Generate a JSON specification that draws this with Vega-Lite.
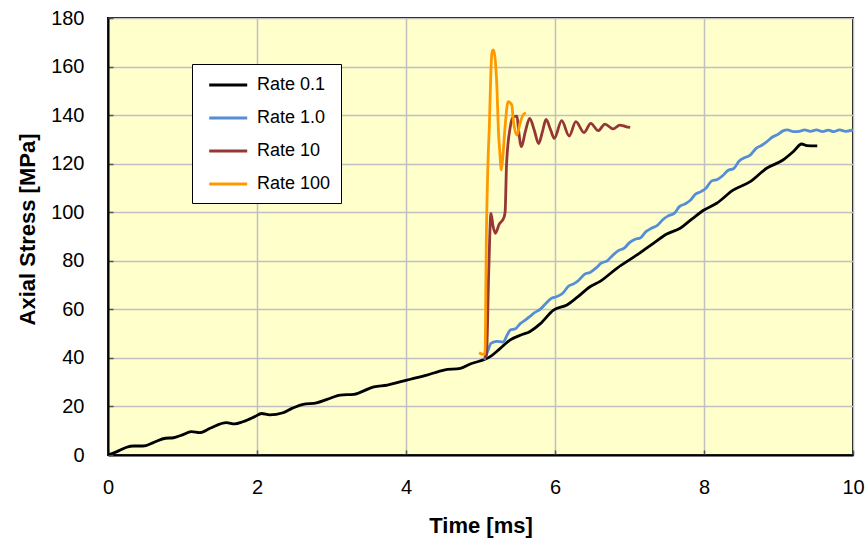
{
  "$schema": "https://vega.github.io/schema/vega-lite/v6.json",
  "width": 745,
  "height": 437,
  "autosize": "none",
  "padding": {"left": 108, "top": 18, "right": 13, "bottom": 83},
  "background": "white",
  "data": {
    "values": [
      {"series": "Rate 0.1", "t": 0, "s": 0},
      {"series": "Rate 0.1", "t": 0.12, "s": 1.4},
      {"series": "Rate 0.1", "t": 0.25, "s": 3.2},
      {"series": "Rate 0.1", "t": 0.34, "s": 3.7},
      {"series": "Rate 0.1", "t": 0.47, "s": 3.7},
      {"series": "Rate 0.1", "t": 0.61, "s": 5.1},
      {"series": "Rate 0.1", "t": 0.77, "s": 6.9},
      {"series": "Rate 0.1", "t": 0.88, "s": 7.1},
      {"series": "Rate 0.1", "t": 0.99, "s": 8.2},
      {"series": "Rate 0.1", "t": 1.12, "s": 9.6},
      {"series": "Rate 0.1", "t": 1.23, "s": 9.2},
      {"series": "Rate 0.1", "t": 1.37, "s": 11.0},
      {"series": "Rate 0.1", "t": 1.59, "s": 13.3},
      {"series": "Rate 0.1", "t": 1.70, "s": 12.8},
      {"series": "Rate 0.1", "t": 1.81, "s": 13.7},
      {"series": "Rate 0.1", "t": 1.97, "s": 15.8},
      {"series": "Rate 0.1", "t": 2.06, "s": 17.1},
      {"series": "Rate 0.1", "t": 2.17, "s": 16.5},
      {"series": "Rate 0.1", "t": 2.35, "s": 17.4},
      {"series": "Rate 0.1", "t": 2.47, "s": 19.2},
      {"series": "Rate 0.1", "t": 2.62, "s": 20.9},
      {"series": "Rate 0.1", "t": 2.80, "s": 21.5},
      {"series": "Rate 0.1", "t": 2.94, "s": 22.9},
      {"series": "Rate 0.1", "t": 3.12, "s": 24.7},
      {"series": "Rate 0.1", "t": 3.30, "s": 25.0},
      {"series": "Rate 0.1", "t": 3.57, "s": 28.1},
      {"series": "Rate 0.1", "t": 3.75, "s": 28.8},
      {"series": "Rate 0.1", "t": 3.93, "s": 30.2},
      {"series": "Rate 0.1", "t": 4.06, "s": 31.2},
      {"series": "Rate 0.1", "t": 4.28, "s": 32.9},
      {"series": "Rate 0.1", "t": 4.51, "s": 35.0},
      {"series": "Rate 0.1", "t": 4.73, "s": 35.7},
      {"series": "Rate 0.1", "t": 4.88, "s": 37.7},
      {"series": "Rate 0.1", "t": 5.06, "s": 39.4},
      {"series": "Rate 0.1", "t": 5.13, "s": 40.5},
      {"series": "Rate 0.1", "t": 5.25, "s": 43.5},
      {"series": "Rate 0.1", "t": 5.40, "s": 47.4},
      {"series": "Rate 0.1", "t": 5.55, "s": 49.5},
      {"series": "Rate 0.1", "t": 5.66, "s": 50.8},
      {"series": "Rate 0.1", "t": 5.80, "s": 54.0},
      {"series": "Rate 0.1", "t": 5.98, "s": 59.7},
      {"series": "Rate 0.1", "t": 6.16, "s": 61.8},
      {"series": "Rate 0.1", "t": 6.30, "s": 65.0},
      {"series": "Rate 0.1", "t": 6.47, "s": 69.3},
      {"series": "Rate 0.1", "t": 6.60, "s": 71.4},
      {"series": "Rate 0.1", "t": 6.83, "s": 76.9},
      {"series": "Rate 0.1", "t": 7.10, "s": 82.4},
      {"series": "Rate 0.1", "t": 7.32, "s": 87.2},
      {"series": "Rate 0.1", "t": 7.50, "s": 91.0},
      {"series": "Rate 0.1", "t": 7.68, "s": 93.4},
      {"series": "Rate 0.1", "t": 7.85, "s": 97.5},
      {"series": "Rate 0.1", "t": 8.00, "s": 100.9},
      {"series": "Rate 0.1", "t": 8.17, "s": 103.7},
      {"series": "Rate 0.1", "t": 8.39, "s": 109.1},
      {"series": "Rate 0.1", "t": 8.62, "s": 112.6},
      {"series": "Rate 0.1", "t": 8.84, "s": 118.1},
      {"series": "Rate 0.1", "t": 9.06, "s": 121.5},
      {"series": "Rate 0.1", "t": 9.20, "s": 125.0},
      {"series": "Rate 0.1", "t": 9.31, "s": 128.1},
      {"series": "Rate 0.1", "t": 9.38, "s": 127.4},
      {"series": "Rate 0.1", "t": 9.52, "s": 127.3},

      {"series": "Rate 1.0", "t": 5.05, "s": 39.3},
      {"series": "Rate 1.0", "t": 5.10, "s": 43.0},
      {"series": "Rate 1.0", "t": 5.14, "s": 46.0},
      {"series": "Rate 1.0", "t": 5.22, "s": 46.8},
      {"series": "Rate 1.0", "t": 5.30, "s": 46.5},
      {"series": "Rate 1.0", "t": 5.36, "s": 49.5},
      {"series": "Rate 1.0", "t": 5.40, "s": 51.5},
      {"series": "Rate 1.0", "t": 5.47, "s": 52.0},
      {"series": "Rate 1.0", "t": 5.53, "s": 54.0},
      {"series": "Rate 1.0", "t": 5.60, "s": 55.6},
      {"series": "Rate 1.0", "t": 5.66, "s": 57.0},
      {"series": "Rate 1.0", "t": 5.72, "s": 58.5},
      {"series": "Rate 1.0", "t": 5.80, "s": 60.0},
      {"series": "Rate 1.0", "t": 5.88, "s": 62.5},
      {"series": "Rate 1.0", "t": 5.95, "s": 64.5},
      {"series": "Rate 1.0", "t": 6.02, "s": 65.2},
      {"series": "Rate 1.0", "t": 6.10, "s": 66.5},
      {"series": "Rate 1.0", "t": 6.18, "s": 69.5},
      {"series": "Rate 1.0", "t": 6.25, "s": 70.5},
      {"series": "Rate 1.0", "t": 6.32, "s": 72.0},
      {"series": "Rate 1.0", "t": 6.40, "s": 74.5},
      {"series": "Rate 1.0", "t": 6.47, "s": 75.2},
      {"series": "Rate 1.0", "t": 6.55, "s": 77.0},
      {"series": "Rate 1.0", "t": 6.62, "s": 79.0},
      {"series": "Rate 1.0", "t": 6.70, "s": 80.0},
      {"series": "Rate 1.0", "t": 6.78, "s": 82.4},
      {"series": "Rate 1.0", "t": 6.85, "s": 84.2},
      {"series": "Rate 1.0", "t": 6.93, "s": 85.2},
      {"series": "Rate 1.0", "t": 7.00, "s": 87.5},
      {"series": "Rate 1.0", "t": 7.07, "s": 88.8},
      {"series": "Rate 1.0", "t": 7.15, "s": 89.5},
      {"series": "Rate 1.0", "t": 7.22, "s": 92.0},
      {"series": "Rate 1.0", "t": 7.30, "s": 93.5},
      {"series": "Rate 1.0", "t": 7.37, "s": 94.5},
      {"series": "Rate 1.0", "t": 7.45, "s": 97.0},
      {"series": "Rate 1.0", "t": 7.52, "s": 98.5},
      {"series": "Rate 1.0", "t": 7.60, "s": 99.5},
      {"series": "Rate 1.0", "t": 7.67, "s": 102.3},
      {"series": "Rate 1.0", "t": 7.75, "s": 103.5},
      {"series": "Rate 1.0", "t": 7.82, "s": 105.0},
      {"series": "Rate 1.0", "t": 7.88, "s": 107.3},
      {"series": "Rate 1.0", "t": 7.96, "s": 108.5},
      {"series": "Rate 1.0", "t": 8.03, "s": 110.0},
      {"series": "Rate 1.0", "t": 8.10, "s": 112.8},
      {"series": "Rate 1.0", "t": 8.18, "s": 113.5},
      {"series": "Rate 1.0", "t": 8.25, "s": 115.0},
      {"series": "Rate 1.0", "t": 8.32, "s": 117.2},
      {"series": "Rate 1.0", "t": 8.40, "s": 118.0},
      {"series": "Rate 1.0", "t": 8.47, "s": 121.0},
      {"series": "Rate 1.0", "t": 8.55, "s": 122.5},
      {"series": "Rate 1.0", "t": 8.62, "s": 123.5},
      {"series": "Rate 1.0", "t": 8.70, "s": 126.3},
      {"series": "Rate 1.0", "t": 8.77, "s": 127.5},
      {"series": "Rate 1.0", "t": 8.84, "s": 129.0},
      {"series": "Rate 1.0", "t": 8.92, "s": 131.0},
      {"series": "Rate 1.0", "t": 8.99, "s": 132.0},
      {"series": "Rate 1.0", "t": 9.06, "s": 133.5},
      {"series": "Rate 1.0", "t": 9.12, "s": 133.9},
      {"series": "Rate 1.0", "t": 9.20, "s": 133.2},
      {"series": "Rate 1.0", "t": 9.28, "s": 133.3},
      {"series": "Rate 1.0", "t": 9.35, "s": 133.9},
      {"series": "Rate 1.0", "t": 9.43, "s": 133.3},
      {"series": "Rate 1.0", "t": 9.51, "s": 133.9},
      {"series": "Rate 1.0", "t": 9.59, "s": 133.2},
      {"series": "Rate 1.0", "t": 9.67, "s": 133.8},
      {"series": "Rate 1.0", "t": 9.74, "s": 133.2},
      {"series": "Rate 1.0", "t": 9.82, "s": 133.9},
      {"series": "Rate 1.0", "t": 9.90, "s": 133.3},
      {"series": "Rate 1.0", "t": 10.0, "s": 133.9},

      {"series": "Rate 10", "t": 5.05, "s": 40.0},
      {"series": "Rate 10", "t": 5.08, "s": 41.2},
      {"series": "Rate 10", "t": 5.11, "s": 75.0},
      {"series": "Rate 10", "t": 5.14, "s": 99.5},
      {"series": "Rate 10", "t": 5.17, "s": 94.0},
      {"series": "Rate 10", "t": 5.20, "s": 91.3},
      {"series": "Rate 10", "t": 5.25, "s": 95.0},
      {"series": "Rate 10", "t": 5.31, "s": 97.5},
      {"series": "Rate 10", "t": 5.33, "s": 100.0},
      {"series": "Rate 10", "t": 5.35, "s": 120.0},
      {"series": "Rate 10", "t": 5.40, "s": 135.2},
      {"series": "Rate 10", "t": 5.44, "s": 139.3},
      {"series": "Rate 10", "t": 5.49, "s": 139.6},
      {"series": "Rate 10", "t": 5.51, "s": 134.0},
      {"series": "Rate 10", "t": 5.55, "s": 127.0},
      {"series": "Rate 10", "t": 5.60, "s": 133.0},
      {"series": "Rate 10", "t": 5.66, "s": 138.6},
      {"series": "Rate 10", "t": 5.72, "s": 134.0},
      {"series": "Rate 10", "t": 5.78, "s": 128.3},
      {"series": "Rate 10", "t": 5.83, "s": 133.0},
      {"series": "Rate 10", "t": 5.88, "s": 138.2},
      {"series": "Rate 10", "t": 5.94, "s": 134.0},
      {"series": "Rate 10", "t": 5.99, "s": 130.4},
      {"series": "Rate 10", "t": 6.09, "s": 137.7},
      {"series": "Rate 10", "t": 6.19, "s": 131.4},
      {"series": "Rate 10", "t": 6.28, "s": 137.3},
      {"series": "Rate 10", "t": 6.39, "s": 132.8},
      {"series": "Rate 10", "t": 6.48, "s": 136.6},
      {"series": "Rate 10", "t": 6.58, "s": 133.6},
      {"series": "Rate 10", "t": 6.67, "s": 136.3},
      {"series": "Rate 10", "t": 6.78, "s": 134.3},
      {"series": "Rate 10", "t": 6.87, "s": 135.9},
      {"series": "Rate 10", "t": 6.95, "s": 135.3},
      {"series": "Rate 10", "t": 7.01, "s": 134.9},

      {"series": "Rate 100", "t": 4.98, "s": 42.1},
      {"series": "Rate 100", "t": 5.03, "s": 41.5},
      {"series": "Rate 100", "t": 5.06, "s": 41.6},
      {"series": "Rate 100", "t": 5.08, "s": 92.7},
      {"series": "Rate 100", "t": 5.10, "s": 120.0},
      {"series": "Rate 100", "t": 5.12, "s": 136.6},
      {"series": "Rate 100", "t": 5.14, "s": 158.6},
      {"series": "Rate 100", "t": 5.16, "s": 166.8},
      {"series": "Rate 100", "t": 5.18, "s": 166.8},
      {"series": "Rate 100", "t": 5.20, "s": 162.0},
      {"series": "Rate 100", "t": 5.22, "s": 151.7},
      {"series": "Rate 100", "t": 5.24, "s": 133.9},
      {"series": "Rate 100", "t": 5.26, "s": 124.3},
      {"series": "Rate 100", "t": 5.28, "s": 117.4},
      {"series": "Rate 100", "t": 5.30, "s": 122.9},
      {"series": "Rate 100", "t": 5.33, "s": 135.2},
      {"series": "Rate 100", "t": 5.37, "s": 145.5},
      {"series": "Rate 100", "t": 5.42, "s": 144.2},
      {"series": "Rate 100", "t": 5.44, "s": 138.0},
      {"series": "Rate 100", "t": 5.49, "s": 131.8},
      {"series": "Rate 100", "t": 5.53, "s": 136.6},
      {"series": "Rate 100", "t": 5.57, "s": 140.0},
      {"series": "Rate 100", "t": 5.61, "s": 141.0}
    ]
  },
  "mark": {"type": "line", "strokeWidth": 2.8, "interpolate": "monotone", "clip": true},
  "encoding": {
    "x": {
      "field": "t", "type": "quantitative",
      "scale": {"domain": [0, 10], "nice": false},
      "axis": {"values": [0, 2, 4, 6, 8, 10], "title": "Time [ms]", "titleBaseline": "alphabetic", "titleY": 77, "labelPadding": 27, "labelFlush": false}
    },
    "y": {
      "field": "s", "type": "quantitative",
      "scale": {"domain": [0, 180], "nice": false},
      "axis": {"values": [0, 20, 40, 60, 80, 100, 120, 140, 160, 180], "title": "Axial Stress [MPa]", "titleX": -81, "titleY": 211, "titleBaseline": "middle", "labelPadding": 29, "labelFlush": false}
    },
    "color": {
      "field": "series", "type": "nominal",
      "scale": {"domain": ["Rate 0.1", "Rate 1.0", "Rate 10", "Rate 100"], "range": ["#000000", "#558ED5", "#953735", "#FF9900"]},
      "legend": {
        "title": null, "orient": "none", "legendX": 84, "legendY": 46,
        "fillColor": "white", "strokeColor": "black", "padding": 10,
        "symbolType": "M-0.4,0H3.6", "symbolStrokeWidth": 3, "symbolSize": 361,
        "labelFontSize": 18, "labelFont": "Liberation Sans", "labelColor": "black", "labelOffset": 33,
        "rowPadding": 13
      }
    }
  },
  "config": {
    "view": {"fill": "#FFFFCC", "stroke": "black", "strokeWidth": 2},
    "axis": {
      "grid": true, "gridColor": "#C0C0C0", "gridWidth": 1.5,
      "domain": true, "domainColor": "black", "domainWidth": 2,
      "ticks": true, "tickColor": "#555555", "tickSize": -5, "tickWidth": 1.5,
      "labelFont": "Liberation Sans", "labelFontSize": 20, "labelColor": "black",
      "titleFont": "Liberation Sans", "titleFontSize": 22, "titleFontWeight": "bold", "titleColor": "black"
    }
  }
}
